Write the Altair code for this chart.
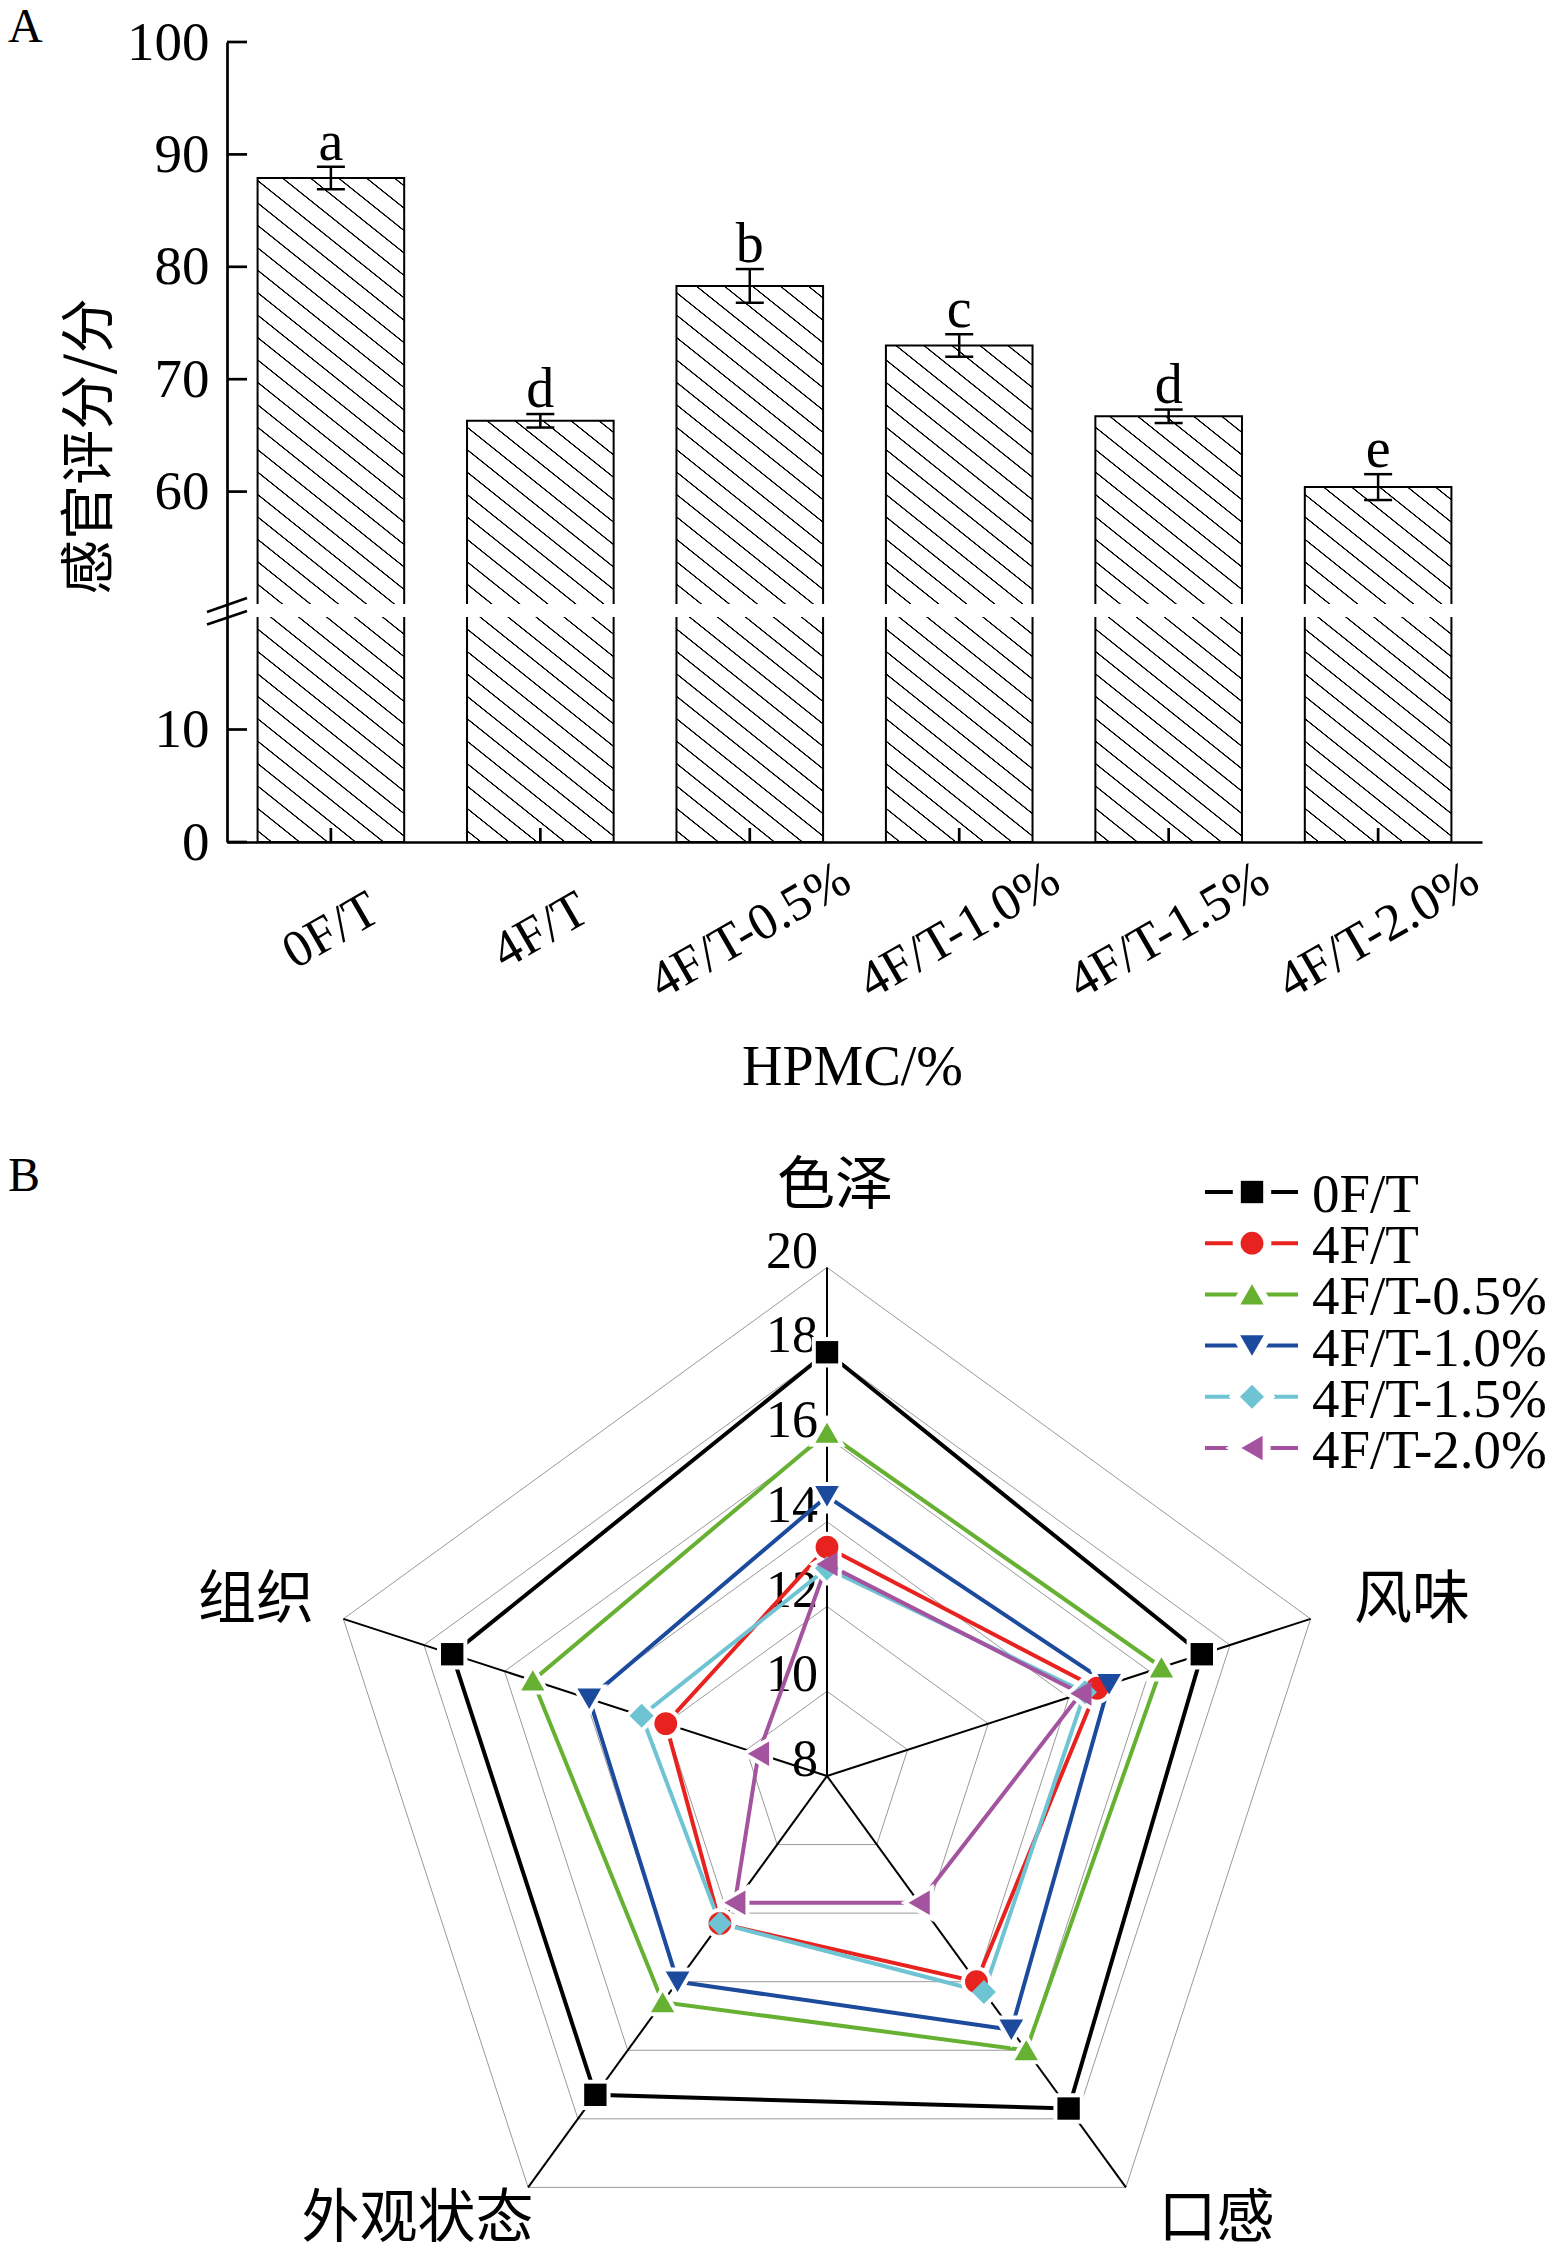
import math
import altair as alt
import pandas as pd

# ---------------- data: panel A ----------------
groups = ["0F/T", "4F/T", "4F/T-0.5%", "4F/T-1.0%", "4F/T-1.5%", "4F/T-2.0%"]
scores = [87.9, 66.3, 78.3, 73.0, 66.7, 60.4]
errors = [1.0, 0.6, 1.5, 1.0, 0.6, 1.15]
letters = ["a", "d", "b", "c", "d", "e"]
y_ticks_a = [0, 10, 60, 70, 80, 90, 100]
y_break_domain = [0, 20, 50, 100]

# ---------------- data: panel B ----------------
attributes = ["色泽", "风味", "口感", "外观状态", "组织"]
r_0ft = [18.0, 17.3, 17.7, 17.3, 17.3]
r_4ft = [13.4, 14.7, 14.0, 12.3, 12.0]
r_4ft_05 = [16.1, 16.3, 16.0, 14.6, 15.3]
r_4ft_10 = [14.6, 15.0, 15.4, 14.0, 13.9]
r_4ft_15 = [12.9, 14.4, 14.3, 12.3, 12.6]
r_4ft_20 = [13.0, 14.3, 11.7, 11.7, 9.7]
radar_ticks = [8, 10, 12, 14, 16, 18, 20]
grid_levels = [10, 12, 14, 16, 18, 20]

series_colors = ["#000000", "#E8221E", "#66B032", "#1C4A9C", "#6FC4D4", "#A4549F"]
series_shapes = ["square", "circle", "triangle-up", "triangle-down", "diamond", "triangle-left"]
series_sizes = [500, 600, 840, 760, 820, 760]

# ---------------- layout constants ----------------
W, H = 1545, 2242
SERIF = "Liberation Serif"
CJK = "Noto Sans CJK SC"
XA0, XA1 = 219, 1474
PAD_IN, PAD_OUT = 0.3, 0.146
YA_RANGE = [834, 609, 596, 34]
CX, CY, RR = 819, 1768, 508.5
RMIN, RMAX = 8, 20
LABEL_R = 12.95
# (align, baseline, dx, dy) for each radar category label
label_style = {
    "色泽": ("center", "bottom", 8, -11),
    "风味": ("left", "middle", 5, -5),
    "口感": ("left", "top", 9, -29),
    "外观状态": ("right", "top", 29, -29),
    "组织": ("right", "middle", 9, -5),
}

step = (XA1 - XA0) / (len(groups) - PAD_IN + 2 * PAD_OUT)
bw = step * (1 - PAD_IN)


def ypix(v):
    d, r = y_break_domain, YA_RANGE
    for i in range(len(d) - 1):
        if v <= d[i + 1]:
            t = (v - d[i]) / (d[i + 1] - d[i])
            return r[i] + t * (r[i + 1] - r[i])
    return r[-1]


ALPHA = math.radians(38.7)
SPACING = 17.5


def hatch(w, h):
    sa, ca = math.sin(ALPHA), math.cos(ALPHA)
    gx, gy = sa / h, -ca / w
    k = (sa / h + ca / w) / (gx * gx + gy * gy)
    L = w * sa + h * ca
    stops = [alt.GradientStop(offset=0, color="white")]
    d = SPACING / 2
    while d + 1.0 < L:
        for off, col in [(d - 0.9, "white"), (d - 0.4, "black"),
                         (d + 0.4, "black"), (d + 0.9, "white")]:
            stops.append(alt.GradientStop(offset=off / L, color=col))
        d += SPACING
    stops.append(alt.GradientStop(offset=1, color="white"))
    return alt.LinearGradient(gradient="linear", stops=stops,
                              x1=0, y1=1, x2=k * gx, y2=1 + k * gy)


# ---------------- panel A ----------------
xscale = alt.Scale(domain=groups, range=[XA0, XA1], paddingInner=PAD_IN, paddingOuter=PAD_OUT)
yscale = alt.Scale(domain=y_break_domain, range=YA_RANGE, nice=False, zero=False)

xaxis = alt.Axis(orient="bottom", offset=-(H - YA_RANGE[0]), domainColor="black", domainWidth=2.7,
                 ticks=False, tickSize=0, labelAngle=-30, labelAlign="center", labelBaseline="middle",
                 labelPadding=88, labelFont=SERIF, labelFontSize=52, labelColor="black",
                 labelOverlap=False, labelLimit=0, grid=False,
                 title="HPMC/%", titleFont=SERIF, titleFontSize=56, titleFontWeight="normal",
                 titleColor="black", titleX=844, titleY=225, titleAlign="center", titleBaseline="middle")
yaxis = alt.Axis(orient="left", offset=-XA0, values=y_ticks_a, domainColor="black", domainWidth=2.7,
                 ticks=False, tickSize=0, labelPadding=18, labelFont=SERIF, labelFontSize=55,
                 labelColor="black", labelOverlap=False, grid=False,
                 title="感官评分/分", titleFont=CJK, titleFontSize=55, titleFontWeight="normal",
                 titleColor="black", titleAngle=-90, titleX=-138, titleY=438,
                 titleAlign="center", titleBaseline="middle")

X = alt.X("cat:N", scale=xscale, axis=xaxis)


def Y(field):
    return alt.Y(field, scale=yscale, axis=yaxis)


dfA = pd.DataFrame({"cat": groups, "value": scores, "err": errors, "letter": letters})
baseA = alt.Chart(dfA).transform_calculate(lo="datum.value - datum.err").transform_calculate(
    hi="datum.value + datum.err")

a_layers = []
for i, g in enumerate(groups):
    h = YA_RANGE[0] - ypix(scores[i])
    a_layers.append(
        baseA.transform_filter(alt.datum.cat == g)
        .mark_bar(fill=hatch(bw, h), stroke="black", strokeWidth=2)
        .encode(x=X, y=Y("value:Q"), y2=alt.datum(0))
    )

a_layers.append(baseA.mark_bar(color="white", width=bw + 10).encode(
    x=X, y=alt.datum(y_break_domain[2]), y2=alt.datum(y_break_domain[1])))
a_layers.append(baseA.mark_rule(color="black", strokeWidth=2.5).encode(x=X, y=Y("lo:Q"), y2="hi:Q"))
a_layers.append(baseA.mark_tick(color="black", thickness=2.5, size=28, opacity=1, orient="horizontal")
                .encode(x=X, y=Y("lo:Q")))
a_layers.append(baseA.mark_tick(color="black", thickness=2.5, size=28, opacity=1, orient="horizontal")
                .encode(x=X, y=Y("hi:Q")))
a_layers.append(baseA.mark_text(font=SERIF, fontSize=56, baseline="alphabetic", align="center",
                                dy=-7, color="black")
                .encode(x=X, y=Y("hi:Q"), text="letter:N"))
a_layers.append(baseA.mark_tick(orient="vertical", size=14, thickness=2.7, yOffset=-7,
                                color="black", opacity=1)
                .encode(x=X, y=alt.datum(0)))
a_layers.append(alt.Chart(pd.DataFrame({"tv": y_ticks_a}))
                .mark_tick(orient="horizontal", size=20, thickness=2.7, xOffset=10, color="black", opacity=1)
                .encode(x=alt.value(XA0), y=Y("tv:Q")))
one = pd.DataFrame({"t": ["A"]})
a_layers.append(alt.Chart(one).mark_rule(color="black", strokeWidth=2.7).encode(
    x=alt.value(199), x2=alt.value(239), y=alt.value(604), y2=alt.value(590)))
a_layers.append(alt.Chart(one).mark_rule(color="black", strokeWidth=2.7).encode(
    x=alt.value(199), x2=alt.value(239), y=alt.value(616.5), y2=alt.value(603)))
a_layers.append(alt.Chart(one).mark_text(font=SERIF, fontSize=48, align="left", baseline="alphabetic",
                                         color="black")
                .encode(x=alt.value(0), y=alt.value(34), text="t:N"))
panelA = alt.layer(*a_layers)

# ---------------- panel B (radar) ----------------
series_vals = [r_0ft, r_4ft, r_4ft_05, r_4ft_10, r_4ft_15, r_4ft_20]
rows = []
for s, vals in zip(groups, series_vals):
    for i in range(len(attributes) + 1):
        rows.append({"series": s, "idx": i, "attr": attributes[i % 5], "value": vals[i % 5]})
dfR = pd.DataFrame(rows)
dfG = pd.DataFrame([{"level": lv, "idx": i} for lv in grid_levels for i in range(6)])
dfS = pd.DataFrame({"attr": attributes, "idx": list(range(5))})
dfT = pd.DataFrame({"v": radar_ticks})

RXs = alt.Scale(domain=[-(RMAX - RMIN), RMAX - RMIN], range=[CX - RR, CX + RR], nice=False, zero=False)
RYs = alt.Scale(domain=[-(RMAX - RMIN), RMAX - RMIN], range=[CY + RR, CY - RR], nice=False, zero=False)
CS = alt.Scale(domain=groups, range=series_colors)
SS = alt.Scale(domain=groups, range=series_shapes)
SZ = alt.Scale(domain=groups, range=series_sizes)
ANG = "PI/2 - datum.idx*2*PI/5"


def RX(f):
    return alt.X(f, scale=RXs, axis=None)


def RY(f):
    return alt.Y(f, scale=RYs, axis=None)


grid = (alt.Chart(dfG).transform_calculate(ang=ANG)
        .transform_calculate(px=f"(datum.level-{RMIN})*cos(datum.ang)")
        .transform_calculate(py=f"(datum.level-{RMIN})*sin(datum.ang)")
        .mark_line(color="#9a9a9a", strokeWidth=1)
        .encode(x=RX("px:Q"), y=RY("py:Q"), detail="level:N", order="idx:Q"))
spokes = (alt.Chart(dfS).transform_calculate(ang=ANG)
          .transform_calculate(ex=f"{RMAX - RMIN}*cos(datum.ang)")
          .transform_calculate(ey=f"{RMAX - RMIN}*sin(datum.ang)")
          .transform_calculate(z="0")
          .mark_rule(color="black", strokeWidth=2)
          .encode(x=RX("z:Q"), y=RY("z:Q"), x2="ex:Q", y2="ey:Q"))
ticklab = (alt.Chart(dfT).transform_calculate(r=f"datum.v-{RMIN}").transform_calculate(z="0")
           .mark_text(font=SERIF, fontSize=52, align="right", baseline="alphabetic", dx=-9, color="black")
           .encode(x=RX("z:Q"), y=RY("r:Q"), text=alt.Text("v:Q", format="d")))
attr_layers = []
for a in attributes:
    al, bl, ddx, ddy = label_style[a]
    attr_layers.append(
        alt.Chart(dfS).transform_filter(alt.datum.attr == a)
        .transform_calculate(ang=ANG)
        .transform_calculate(lx=f"{LABEL_R}*cos(datum.ang)")
        .transform_calculate(ly=f"{LABEL_R}*sin(datum.ang)")
        .mark_text(font=CJK, fontSize=58, align=al, baseline=bl, dx=ddx, dy=ddy, color="black")
        .encode(x=RX("lx:Q"), y=RY("ly:Q"), text="attr:N"))
baseR = (alt.Chart(dfR).transform_calculate(ang=ANG)
         .transform_calculate(px=f"(datum.value-{RMIN})*cos(datum.ang)")
         .transform_calculate(py=f"(datum.value-{RMIN})*sin(datum.ang)"))
lines = baseR.mark_line(strokeWidth=4).encode(
    x=RX("px:Q"), y=RY("py:Q"), color=alt.Color("series:N", scale=CS, legend=None), order="idx:Q")
ptsR = baseR.transform_filter("datum.idx < 5")
halo = ptsR.mark_point(filled=True, color="white", stroke="white", strokeWidth=8, opacity=1).encode(
    x=RX("px:Q"), y=RY("py:Q"),
    shape=alt.Shape("series:N", scale=SS, legend=None),
    size=alt.Size("series:N", scale=SZ, legend=None))
marks = ptsR.mark_point(filled=True, opacity=1, strokeWidth=0).encode(
    x=RX("px:Q"), y=RY("py:Q"),
    color=alt.Color("series:N", scale=CS, legend=None),
    shape=alt.Shape("series:N", scale=SS, legend=None),
    size=alt.Size("series:N", scale=SZ, legend=None))
labB = (alt.Chart(pd.DataFrame({"t": ["B"]}))
        .mark_text(font=SERIF, fontSize=48, align="left", baseline="alphabetic", color="black")
        .encode(x=alt.value(0), y=alt.value(1183), text="t:N"))
radarL = alt.layer(grid, spokes, ticklab, *attr_layers, lines, halo, marks, labB)

# ---------------- legend ----------------
dfL = pd.DataFrame({"series": groups})
LY = alt.Y("series:N", scale=alt.Scale(type="point", domain=groups, range=[1184, 1440], padding=0), axis=None)
leg_line = alt.Chart(dfL).mark_rule(strokeWidth=4).encode(
    x=alt.value(1197), x2=alt.value(1290), y=LY, color=alt.Color("series:N", scale=CS, legend=None))
leg_halo = alt.Chart(dfL).mark_point(filled=True, color="white", stroke="white", strokeWidth=16,
                                     opacity=1).encode(
    x=alt.value(1244), y=LY, shape=alt.Shape("series:N", scale=SS, legend=None),
    size=alt.Size("series:N", scale=SZ, legend=None))
leg_mark = alt.Chart(dfL).mark_point(filled=True, opacity=1, strokeWidth=0).encode(
    x=alt.value(1244), y=LY, color=alt.Color("series:N", scale=CS, legend=None),
    shape=alt.Shape("series:N", scale=SS, legend=None),
    size=alt.Size("series:N", scale=SZ, legend=None))
leg_text = alt.Chart(dfL).mark_text(font=SERIF, fontSize=55, align="left", baseline="middle", dy=3,
                                    color="black").encode(x=alt.value(1304), y=LY, text="series:N")
legendL = alt.layer(leg_line, leg_halo, leg_mark, leg_text)

chart = (alt.layer(panelA, radarL, legendL)
         .resolve_scale(x="independent", y="independent")
         .properties(width=W, height=H, autosize=alt.AutoSizeParams(type="none"), padding=0,
                     background="white")
         .configure_view(stroke=None))

chart.save("out.html", embed_options={"renderer": "svg", "actions": False})
